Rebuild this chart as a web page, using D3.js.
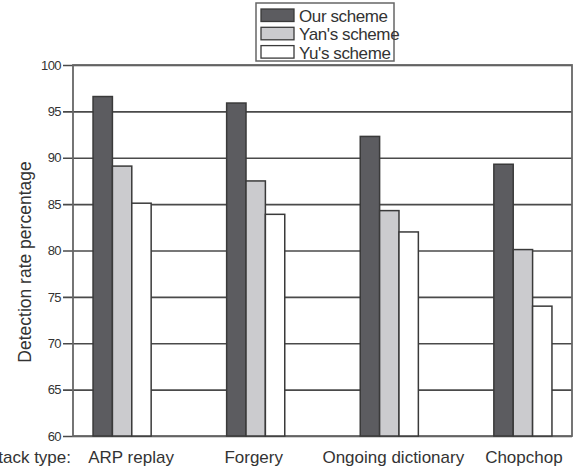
<!DOCTYPE html>
<html>
<head>
<meta charset="utf-8">
<script src="https://cdn.jsdelivr.net/npm/d3@7"></script>
<style>
  html, body { margin: 0; padding: 0; background: #fff; }
  svg { display: block; font-family: "Liberation Sans", Arial, sans-serif; }
</style>
</head>
<body>
<div id="chart"></div>
<script>
// Detection rate per attack type, three schemes
const attackTypes = ['ARP replay', 'Forgery', 'Ongoing dictionary', 'Chopchop'];
const seriesNames = ['Our scheme', "Yan's scheme", "Yu's scheme"];
const ourScheme = [96.6, 95.9, 92.3, 89.3];
const yanScheme = [89.1, 87.5, 84.3, 80.1];
const yuScheme  = [85.1, 83.9, 82.0, 74.0];
const yTicks = [60, 65, 70, 75, 80, 85, 90, 95, 100];

const seriesValues = [ourScheme, yanScheme, yuScheme];
const fills = ['#5c5c60', '#cbcbce', '#ffffff'];

const width = 578, height = 466;
const margin = { top: 65, right: 6, bottom: 30, left: 73 };

const svg = d3.select('#chart').append('svg')
  .attr('width', width)
  .attr('height', height);

const x0 = d3.scaleBand()
  .domain(attackTypes)
  .range([margin.left, width - margin.right])
  .paddingInner(0.565)
  .paddingOuter(0.15);

const x1 = d3.scaleBand()
  .domain(seriesNames)
  .range([0, x0.bandwidth()]);

const y = d3.scaleLinear()
  .domain([60, 100])
  .range([height - margin.bottom, margin.top]);

// Grid lines + outer ticks
svg.append('g')
  .attr('transform', `translate(${margin.left},0)`)
  .call(d3.axisLeft(y)
    .tickValues(yTicks)
    .tickSize(-(width - margin.left - margin.right))
    .tickSizeOuter(0)
    .tickPadding(12))
  .call(g => g.select('.domain').remove())
  .call(g => g.selectAll('.tick line')
    .attr('x1', -10)
    .attr('stroke', '#4a4a4a')
    .attr('stroke-width', 1.6))
  .call(g => g.selectAll('.tick text')
    .attr('fill', '#333')
    .style('font-size', '13px')
    .style('letter-spacing', '-0.6px'));

// Frame
svg.append('rect')
  .attr('x', margin.left)
  .attr('y', margin.top)
  .attr('width', width - margin.left - margin.right)
  .attr('height', height - margin.top - margin.bottom)
  .attr('fill', 'none')
  .attr('stroke', '#666')
  .attr('stroke-width', 1.8);

// Bars
const groups = svg.selectAll('.group')
  .data(attackTypes)
  .join('g')
  .attr('class', 'group')
  .attr('transform', d => `translate(${x0(d)},0)`);

groups.selectAll('rect')
  .data((d, i) => seriesNames.map((s, j) => ({ s, j, v: seriesValues[j][i] })))
  .join('rect')
  .attr('x', d => x1(d.s))
  .attr('y', d => y(d.v))
  .attr('width', x1.bandwidth())
  .attr('height', d => y(60) - y(d.v))
  .attr('fill', d => fills[d.j])
  .attr('stroke', '#3a3a3a')
  .attr('stroke-width', 1.5);

// Category labels (hand-nudged like the original figure)
const nudge = { 'ARP replay': 9, 'Forgery': -2, 'Ongoing dictionary': 4, 'Chopchop': 1 };
svg.append('g')
  .selectAll('text')
  .data(attackTypes)
  .join('text')
  .attr('x', d => x0(d) + x0.bandwidth() / 2 + nudge[d])
  .attr('y', 463)
  .attr('text-anchor', 'middle')
  .attr('fill', '#333')
  .style('font-size', '17px')
  .text(d => d);

svg.append('text')
  .attr('x', 71)
  .attr('y', 463)
  .attr('text-anchor', 'end')
  .attr('fill', '#333')
  .style('font-size', '17px')
  .text('Attack type:');

// Y axis title
svg.append('text')
  .attr('transform', `translate(31,262) rotate(-90)`)
  .attr('text-anchor', 'middle')
  .attr('fill', '#333')
  .style('font-size', '17.5px')
  .text('Detection rate percentage');

// Legend
const legend = svg.append('g').attr('transform', 'translate(256,3)');
legend.append('rect')
  .attr('width', 138)
  .attr('height', 58)
  .attr('fill', '#fff')
  .attr('stroke', '#666')
  .attr('stroke-width', 1.5);

const items = legend.selectAll('.item')
  .data(seriesNames)
  .join('g')
  .attr('class', 'item')
  .attr('transform', (d, i) => `translate(5,${6 + i * 18.3})`);

items.append('rect')
  .attr('width', 33)
  .attr('height', 12.5)
  .attr('fill', (d, i) => fills[i])
  .attr('stroke', '#3a3a3a')
  .attr('stroke-width', 1.3);

items.append('text')
  .attr('x', 38)
  .attr('y', 13)
  .attr('fill', '#333')
  .style('font-size', '17px')
  .style('letter-spacing', '-0.4px')
  .text(d => d);
</script>
</body>
</html>
